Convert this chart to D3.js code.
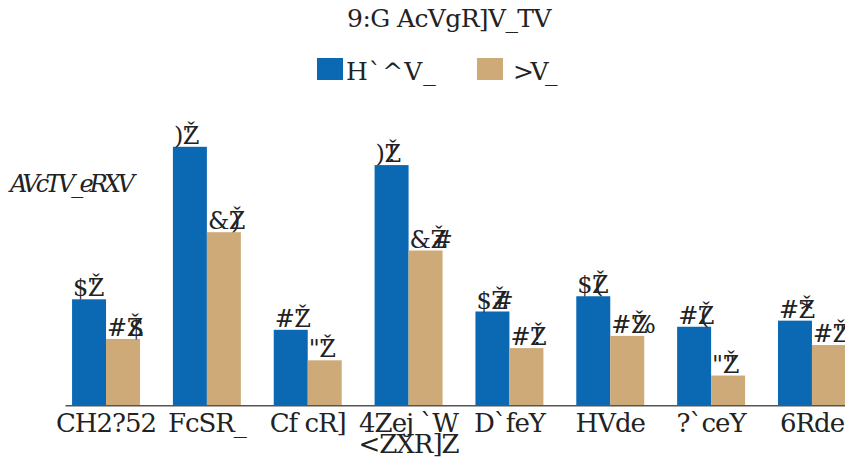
<!DOCTYPE html>
<html>
<head>
<meta charset="utf-8">
<script src="https://cdn.jsdelivr.net/npm/d3@7"></script>
<style>
  html, body { margin: 0; padding: 0; background: #fff; }
</style>
</head>
<body>
<svg id="chart" width="845" height="458" font-family="'DejaVu Serif', serif"></svg>
<script>
// Category labels (two-line labels are split on "\n")
const categories = ["CH2?52", "FcSR_", "Cf cR]", "4Zej `W\n<ZXR]Z", "D`feY", "HVde", "?`ceY", "6Rde"];
// Series
const seriesNames = ["H`^V_", ">V_"];
const womenValues = [3.6, 8.6, 2.6, 8.0, 3.2, 3.7, 2.7, 2.9];
const menValues   = [2.3, 5.8, 1.6, 5.2, 2.0, 2.4, 1.1, 2.1];
const titleText = "9:G AcVgR]V_TV";
const yLabelText = "AVcTV_eRXV";

const colors = ["#0b69b4", "#cfaa79"];
const textColor = "#222";

const baseY = 405.3;

const svg = d3.select("#chart");

const x0 = d3.scaleBand().domain(categories).range([65, 853]).paddingInner(0.326).paddingOuter(0.07);
const x1 = d3.scaleBand().domain(seriesNames).range([0, x0.bandwidth()]);
const y = d3.scaleLinear().domain([0, 9]).range([409.1, 409.1 - 9 * 30.5]);

// Value labels use the same glyph encoding as the rest of the chart text
function encodeLabel(v) {
  const s = v.toFixed(1);
  return Array.from(s).map(ch => ch === "." ? "\u017D" : String.fromCharCode(ch.charCodeAt(0) - 15));
}

const rows = categories.map((c, i) => ({ cat: c, vals: [womenValues[i], menValues[i]] }));

const groups = svg.append("g").selectAll("g").data(rows).join("g")
  .attr("transform", d => `translate(${x0(d.cat)},0)`);

groups.selectAll("rect").data(d => d.vals.map((v, j) => ({ key: seriesNames[j], v, j })))
  .join("rect")
  .attr("x", d => x1(d.key))
  .attr("y", d => y(d.v))
  .attr("width", x1.bandwidth())
  .attr("height", d => baseY - y(d.v))
  .attr("fill", d => colors[d.j]);

// Value labels
groups.selectAll("text.val").data(d => d.vals.map((v, j) => ({ key: seriesNames[j], v, j })))
  .join("text")
  .attr("class", "val")
  .attr("x", d => x1(d.key) + 1)
  .attr("y", d => y(d.v) - 3)
  .attr("font-size", 24)
  .attr("letter-spacing", -0.5)
  .attr("fill", textColor)
  .each(function (d) {
    const parts = encodeLabel(d.v);
    const t = d3.select(this);
    t.append("tspan").text(parts[0]);
    t.append("tspan").text(parts[1]);
    t.append("tspan").attr("dx", -14).text(parts[2]);
  });

// X axis line
const xAxis = d3.axisBottom(x0).tickSize(0).tickFormat("");
const axisG = svg.append("g").attr("transform", `translate(0,${baseY})`).call(xAxis);
axisG.select(".domain").attr("stroke", "#555").attr("stroke-width", 1.5);

// Category labels
svg.append("g").selectAll("text").data(categories).join("text")
  .attr("text-anchor", "middle")
  .attr("font-size", 26)
  .attr("fill", textColor)
  .attr("letter-spacing", -1)
  .attr("x", d => x0(d) + x0.bandwidth() / 2)
  .attr("y", 432)
  .each(function (d) {
    const lines = d.split("\n");
    const t = d3.select(this);
    lines.forEach((ln, k) => {
      t.append("tspan").attr("x", x0(d) + x0.bandwidth() / 2).attr("dy", k === 0 ? 0 : 21).text(ln);
    });
  });

// Title
svg.append("text").attr("x", 449).attr("y", 27).attr("text-anchor", "middle")
  .attr("font-size", 25).attr("letter-spacing", -0.6).attr("fill", textColor).text(titleText);

// Legend
const legendX = [317, 477];
const legendSpacing = [1, -3.5];
const legend = svg.append("g").selectAll("g").data(seriesNames).join("g")
  .attr("transform", (d, i) => `translate(${legendX[i]},58)`);
legend.append("rect").attr("width", 26).attr("height", 22).attr("fill", (d, i) => colors[i]);
legend.append("text").attr("x", (d, i) => i === 0 ? 29 : 36).attr("y", 22)
  .attr("font-size", 25).attr("fill", textColor)
  .attr("letter-spacing", (d, i) => legendSpacing[i]).text(d => d);

// Y axis label
svg.append("text").attr("x", 10).attr("y", 192).attr("font-size", 24)
  .attr("font-style", "italic").attr("fill", textColor)
  .attr("letter-spacing", -3.8).text(yLabelText);
</script>
</body>
</html>
